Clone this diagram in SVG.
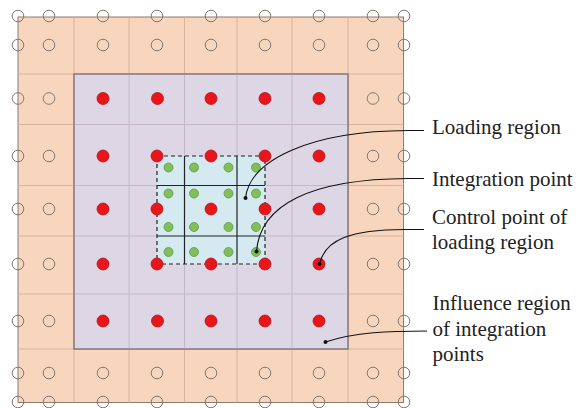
<svg xmlns="http://www.w3.org/2000/svg" width="585" height="408" viewBox="0 0 585 408">
<defs>
<style>
.bg{fill:#ffffff}
.outer{fill:#F8D6BD;stroke:#8C7C72;stroke-width:1}
.inner{fill:#DDD6E4;stroke:#85767A;stroke-width:1}
.gridO{stroke:#D4B49C;stroke-width:1;fill:none}
.gridI{stroke:#C4B8C8;stroke-width:1;fill:none}
.load{fill:#D4EAF0}
.loadb{fill:none;stroke:#222;stroke-width:1.2;stroke-dasharray:4,3}
.loadl{stroke:#222;stroke-width:1.2;fill:none}
.ec{fill:none;stroke:#857670;stroke-width:1}
.rd{fill:#E8161B;stroke:#B41418;stroke-width:0.8}
.gd{fill:#82BE5A;stroke:#5E9A44;stroke-width:0.8}
.lead{fill:none;stroke:#111;stroke-width:1.1}
.tip{fill:#111}
.lbl{font-family:"Liberation Serif","Times New Roman",serif;font-size:21px;fill:#222}
</style>
</defs>
<rect class="bg" width="585" height="408"/>
<g id="outer-region">
<rect class="outer" x="18" y="17" width="385.5" height="385.5"/>
<path class="gridO" d="M74,17V402.5M129,17V402.5M184.5,17V402.5M237,17V402.5M292,17V402.5M348,17V402.5M18,74H403.5M18,124.5H403.5M18,185.5H403.5M18,236H403.5M18,294H403.5M18,349H403.5"/>
</g>
<g id="influence-region">
<rect class="inner" x="74" y="74" width="274" height="275"/>
<path class="gridI" d="M129,74V349M184.5,74V349M237,74V349M292,74V349M74,124.5H348M74,185.5H348M74,236H348M74,294H348"/>
<rect class="inner" x="74" y="74" width="274" height="275" style="fill:none"/>
</g>
<g id="loading-region">
<rect class="load" x="157" y="156" width="108" height="108"/>
<path class="loadl" d="M184.5,156V264M237,156V264M157,185.5H265M157,236H265"/>
<rect class="loadb" x="157" y="156" width="108" height="108"/>
</g>
<g id="empty-points">
<circle class="ec" cx="18" cy="16" r="5.8"/><circle class="ec" cx="49" cy="16" r="5.8"/><circle class="ec" cx="103" cy="16" r="5.8"/><circle class="ec" cx="157" cy="16" r="5.8"/><circle class="ec" cx="211" cy="16" r="5.8"/><circle class="ec" cx="265" cy="16" r="5.8"/><circle class="ec" cx="319" cy="16" r="5.8"/><circle class="ec" cx="373" cy="16" r="5.8"/><circle class="ec" cx="404" cy="16" r="5.8"/>
<circle class="ec" cx="18" cy="45" r="5.8"/><circle class="ec" cx="49" cy="45" r="5.8"/><circle class="ec" cx="103" cy="45" r="5.8"/><circle class="ec" cx="157" cy="45" r="5.8"/><circle class="ec" cx="211" cy="45" r="5.8"/><circle class="ec" cx="265" cy="45" r="5.8"/><circle class="ec" cx="319" cy="45" r="5.8"/><circle class="ec" cx="373" cy="45" r="5.8"/><circle class="ec" cx="404" cy="45" r="5.8"/>
<circle class="ec" cx="18" cy="98.5" r="5.8"/><circle class="ec" cx="49" cy="98.5" r="5.8"/><circle class="ec" cx="373" cy="98.5" r="5.8"/><circle class="ec" cx="404" cy="98.5" r="5.8"/>
<circle class="ec" cx="18" cy="156" r="5.8"/><circle class="ec" cx="49" cy="156" r="5.8"/><circle class="ec" cx="373" cy="156" r="5.8"/><circle class="ec" cx="404" cy="156" r="5.8"/>
<circle class="ec" cx="18" cy="209" r="5.8"/><circle class="ec" cx="49" cy="209" r="5.8"/><circle class="ec" cx="373" cy="209" r="5.8"/><circle class="ec" cx="404" cy="209" r="5.8"/>
<circle class="ec" cx="18" cy="264" r="5.8"/><circle class="ec" cx="49" cy="264" r="5.8"/><circle class="ec" cx="373" cy="264" r="5.8"/><circle class="ec" cx="404" cy="264" r="5.8"/>
<circle class="ec" cx="18" cy="321" r="5.8"/><circle class="ec" cx="49" cy="321" r="5.8"/><circle class="ec" cx="373" cy="321" r="5.8"/><circle class="ec" cx="404" cy="321" r="5.8"/>
<circle class="ec" cx="18" cy="373" r="5.8"/><circle class="ec" cx="49" cy="373" r="5.8"/><circle class="ec" cx="103" cy="373" r="5.8"/><circle class="ec" cx="157" cy="373" r="5.8"/><circle class="ec" cx="211" cy="373" r="5.8"/><circle class="ec" cx="265" cy="373" r="5.8"/><circle class="ec" cx="319" cy="373" r="5.8"/><circle class="ec" cx="373" cy="373" r="5.8"/><circle class="ec" cx="404" cy="373" r="5.8"/>
<circle class="ec" cx="18" cy="402" r="5.8"/><circle class="ec" cx="49" cy="402" r="5.8"/><circle class="ec" cx="103" cy="402" r="5.8"/><circle class="ec" cx="157" cy="402" r="5.8"/><circle class="ec" cx="211" cy="402" r="5.8"/><circle class="ec" cx="265" cy="402" r="5.8"/><circle class="ec" cx="319" cy="402" r="5.8"/><circle class="ec" cx="373" cy="402" r="5.8"/><circle class="ec" cx="404" cy="402" r="5.8"/>
</g>
<g id="integration-points">
<circle class="gd" cx="168.5" cy="167.5" r="4.5"/><circle class="gd" cx="194" cy="167.5" r="4.5"/><circle class="gd" cx="228.5" cy="167.5" r="4.5"/><circle class="gd" cx="256" cy="167.5" r="4.5"/>
<circle class="gd" cx="168.5" cy="193.5" r="4.5"/><circle class="gd" cx="194" cy="193.5" r="4.5"/><circle class="gd" cx="228.5" cy="193.5" r="4.5"/><circle class="gd" cx="256" cy="193.5" r="4.5"/>
<circle class="gd" cx="168.5" cy="227" r="4.5"/><circle class="gd" cx="194" cy="227" r="4.5"/><circle class="gd" cx="228.5" cy="227" r="4.5"/><circle class="gd" cx="256" cy="227" r="4.5"/>
<circle class="gd" cx="168.5" cy="252" r="4.5"/><circle class="gd" cx="194" cy="252" r="4.5"/><circle class="gd" cx="228.5" cy="252" r="4.5"/><circle class="gd" cx="256" cy="252" r="4.5"/>
</g>
<g id="control-points">
<circle class="rd" cx="103" cy="98.5" r="6"/><circle class="rd" cx="157.5" cy="98.5" r="6"/><circle class="rd" cx="211" cy="98.5" r="6"/><circle class="rd" cx="265" cy="98.5" r="6"/><circle class="rd" cx="319" cy="98.5" r="6"/>
<circle class="rd" cx="103" cy="156" r="6"/><circle class="rd" cx="157" cy="156" r="6"/><circle class="rd" cx="211" cy="156" r="6"/><circle class="rd" cx="265" cy="156" r="6"/><circle class="rd" cx="319" cy="156" r="6"/>
<circle class="rd" cx="103" cy="209" r="6"/><circle class="rd" cx="157" cy="209" r="6"/><circle class="rd" cx="211" cy="209" r="6"/><circle class="rd" cx="265" cy="209" r="6"/><circle class="rd" cx="319" cy="209" r="6"/>
<circle class="rd" cx="103" cy="264" r="6"/><circle class="rd" cx="157" cy="264" r="6"/><circle class="rd" cx="211" cy="264" r="6"/><circle class="rd" cx="265" cy="264" r="6"/><circle class="rd" cx="319" cy="264" r="6"/>
<circle class="rd" cx="103" cy="321" r="6"/><circle class="rd" cx="157.5" cy="321" r="6"/><circle class="rd" cx="211" cy="321" r="6"/><circle class="rd" cx="265" cy="321" r="6"/><circle class="rd" cx="319" cy="321" r="6"/>
</g>
<g id="connectors">
<path class="lead" d="M424,130.5L408,130.5C310,131 250,160 245.5,198"/>
<circle class="tip" cx="245.5" cy="198" r="2"/>
<path class="lead" d="M424,178.5L408,178.5C310,179 260,205 256.5,251.5"/>
<circle class="tip" cx="256.5" cy="251.5" r="2"/>
<path class="lead" d="M424,229.5L408,229.5C350,229 325,240 319.5,264"/>
<circle class="tip" cx="319.5" cy="264" r="2"/>
<path class="lead" d="M427,331C390,331 355,332 325.5,342"/>
<circle class="tip" cx="325.5" cy="342" r="2"/>
</g>
<g id="labels">
<text class="lbl" x="432" y="134">Loading region</text>
<text class="lbl" x="432" y="185.5">Integration point</text>
<text class="lbl" x="432" y="223.5">Control point of</text>
<text class="lbl" x="432" y="249">loading region</text>
<text class="lbl" x="432.5" y="310">Influence region</text>
<text class="lbl" x="432.5" y="335.5">of integration</text>
<text class="lbl" x="432.5" y="361">points</text>
</g>
</svg>
